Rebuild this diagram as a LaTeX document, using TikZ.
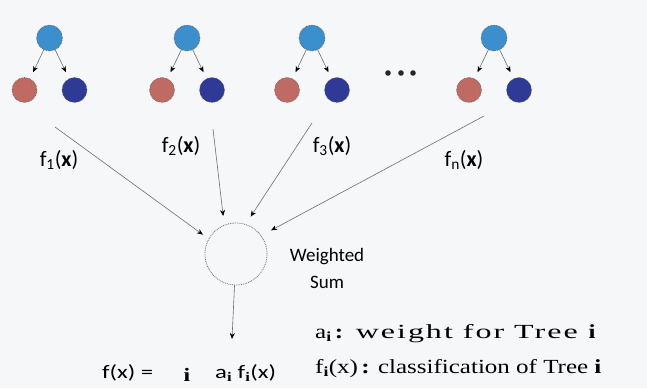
\documentclass[tikz,border=0pt]{standalone}
\usepackage{fontspec}
\setmainfont{Liberation Serif}
\newfontfamily\lblfont{Carlito}
\newfontfamily\formfont[FakeStretch=1.3]{Carlito}
\newfontfamily\legfont[FakeStretch=1.25]{Liberation Serif}
\newfontfamily\legwide[FakeStretch=1.6,LetterSpace=10]{Liberation Serif}
\usepackage{tikz}
\usetikzlibrary{arrows.meta,positioning}
\usepackage{xcolor}
\definecolor{bgpaper}{RGB}{246,247,249}
\definecolor{rootblue}{RGB}{58,143,204}
\definecolor{leafred}{RGB}{192,106,100}
\definecolor{leafnavy}{RGB}{46,58,150}
\definecolor{wire}{RGB}{110,110,110}
\newcommand{\bi}{{\legfont\bfseries i}}
\tikzset{
  nd/.style={circle,draw=black!65,densely dotted,line width=0.6pt,fill=rootblue,
             minimum size=26pt,inner sep=0pt},
  ndL/.style={nd,fill=leafred,minimum size=25pt},
  ndR/.style={nd,fill=leafnavy,minimum size=25pt},
  sumnd/.style={circle,draw=black!60,densely dotted,line width=0.8pt,minimum size=62pt,inner sep=0pt},
  ge/.style={-{Stealth[length=6pt,width=5pt,black]},wire,line width=0.6pt},
  flbl/.style={font=\lblfont\fontsize{22}{26}\selectfont,inner sep=0pt},
  wlbl/.style={font=\lblfont\fontsize{19}{27}\selectfont,inner sep=0pt},
  form/.style={font=\formfont\fontsize{19}{22}\selectfont,inner sep=0pt,anchor=base west},
  leg/.style={font=\legfont\fontsize{20}{24}\selectfont,inner sep=0pt,anchor=base west},
}
\begin{document}
\begin{tikzpicture}[x=1pt,y=-1pt]
    \fill[bgpaper] (0,0) rectangle (647,388);
    \useasboundingbox (0,0) rectangle (647,388);
    % the trees
    \foreach \x/\n in {49.5/1,187/2,312/3,494/n}{
      \node[nd] (r\n) at (\x,38) {};
      \node[ndL] (a\n) at (\x-25,90) {};
      \node[ndR] (b\n) at (\x+25,90) {};
      \draw[ge,shorten >=7pt] (r\n) -- (a\n);
      \draw[ge,shorten >=7pt] (r\n) -- (b\n);
    }
    \foreach \dx in {388,401,413}
      \fill[black!85] (\dx,73) circle (2.8pt);
    % weighted sum
    \node[sumnd] (sum) at (236,254) {};
    \node[wlbl,align=center] (wsum) at (327,268) {Weighted\\Sum};
    % tree outputs
    \coordinate (s1) at (55,127);
    \coordinate (s2) at (213,129);
    \coordinate (s3) at (312,123);
    \coordinate (sn) at (484,116);
    \draw[ge,shorten >=7pt] (s1) -- (sum.151);
    \draw[ge,shorten >=9pt] (s2) -- (sum.112);
    \draw[ge,shorten >=9pt] (s3) -- (sum.72);
    \draw[ge,shorten >=11pt] (sn) -- (sum.36);
    \node[flbl] (l1) at (59,160) {f\textsubscript{1}(\textbf{x})};
    \node[flbl] (l2) at (181,146) {f\textsubscript{2}(\textbf{x})};
    \node[flbl] (l3) at (332,146) {f\textsubscript{3}(\textbf{x})};
    \node[flbl] (ln) at (464,160) {f\textsubscript{n}(\textbf{x})};
    % result
    \coordinate (res) at (232,339);
    \draw[ge] (sum) -- (res);
    \node[form] (fx) at (102,378) {f(x) =};
    \node[form,anchor=base] (idx) at (187,381) {\bi};
    \node[form] (term) at (215,378) {a\textsubscript{\bi}\ f\textsubscript{\bi}(x)};
    % legend
    \node[leg] (wt) at (315,338) {a\textsubscript{\bi}\,\textbf{:}\ \ {\legwide weight for Tree}\hspace{11pt}\bi};
    \node[leg] (cl) at (315,373) {f\textsubscript{\bi}(x)\,\textbf{:} classification of Tree \bi};
\end{tikzpicture}
\end{document}
